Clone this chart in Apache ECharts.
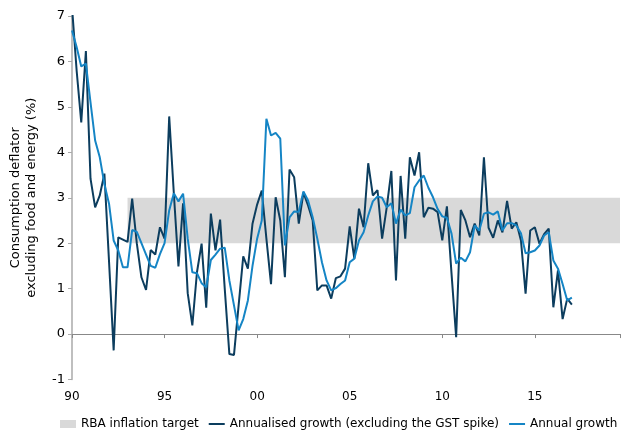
<!DOCTYPE html>
<html lang="en">
<head>
    <meta charset="UTF-8">
    <title>Consumption deflator</title>
    <script src="https://cdn.jsdelivr.net/npm/echarts@6/dist/echarts.min.js"></script>
</head>
<style type="text/css">
    html, body { margin: 0; padding: 0; background: #fff; }
    #main { width: 621px; height: 430px; }
</style>
<body>
<div id="main"></div>
<script type="text/javascript">
    // quarterly, starting 1990 Q1
    var startYear = 1990;
    var yearLabels = ['90', '95', '00', '05', '10', '15'];
    var targetBand = [2, 3];
    var targetStart = 1993;

    // Annualised growth (excluding the GST spike)
    var annualised = [
        7.2, 5.8, 4.66, 6.23, 3.42, 2.79, 3.05, 3.53, 1.6, -0.36,
        2.13, 2.08, 2.03, 2.98, 2.0, 1.25, 0.97, 1.85, 1.75, 2.35,
        2.1, 4.79, 3.1, 1.49, 2.88, 0.9, 0.19, 1.36, 1.99, 0.58,
        2.65, 1.84, 2.52, 1.0, -0.44, -0.46, 0.63, 1.71, 1.44, 2.43,
        2.85, 3.16, 2.1, 1.1, 3.01, 2.5, 1.25, 3.62, 3.45, 2.43,
        3.11, 2.83, 2.5, 0.96, 1.07, 1.07, 0.78, 1.23, 1.27, 1.44,
        2.37, 1.66, 2.76, 2.35, 3.76, 3.05, 3.17, 2.1, 2.79, 3.59,
        1.18, 3.48, 2.1, 3.89, 3.49, 4.0, 2.57, 2.78, 2.76, 2.68,
        2.06, 2.81, 1.33, -0.07, 2.73, 2.5, 2.13, 2.43, 2.17, 3.89,
        2.34, 2.12, 2.5, 2.24, 2.93, 2.32, 2.46, 2.06, 0.89, 2.28,
        2.35, 1.99, 2.2, 2.32, 0.59, 1.4, 0.33, 0.78, 0.65
    ];

    // Annual growth
    var annual = [
        6.68, 6.32, 5.89, 5.95, 5.1, 4.26, 3.89, 3.3, 2.87, 2.06,
        1.84, 1.47, 1.47, 2.29, 2.25, 2.0, 1.75, 1.5, 1.46, 1.76,
        2.0, 2.72, 3.1, 2.92, 3.09, 2.1, 1.36, 1.34, 1.12, 1.03,
        1.63, 1.75, 1.88, 1.9, 1.18, 0.63, 0.08, 0.33, 0.74, 1.5,
        2.1, 2.5, 4.74, 4.37, 4.43, 4.3, 1.95, 2.57, 2.7, 2.69,
        3.14, 2.94, 2.57, 2.1, 1.58, 1.18, 0.96, 1.01, 1.1, 1.18,
        1.58, 1.66, 2.06, 2.24, 2.61, 2.92, 3.03, 3.0, 2.79, 2.88,
        2.43, 2.74, 2.61, 2.66, 3.23, 3.38, 3.49, 3.22, 3.01, 2.75,
        2.59, 2.56, 2.21, 1.55, 1.68, 1.6, 1.8, 2.39, 2.28, 2.65,
        2.68, 2.63, 2.7, 2.28, 2.44, 2.44, 2.39, 2.22, 1.78, 1.8,
        1.84, 1.95, 2.17, 2.24, 1.62, 1.44, 1.1, 0.74, 0.8
    ];

    var xMax = 2019.6;

    function toPairs(arr) {
        var out = [];
        for (var i = 0; i < arr.length; i++) {
            out.push([startYear + i * 0.25, arr[i]]);
        }
        return out;
    }

    var font = 'DejaVu Sans';
    var lineIcon = 'path://M0,0 L16,0 L16,2 L0,2 Z';
    var myChart = echarts.init(document.getElementById('main'));
    var option = {
        animation: false,
        grid: {left: 72, right: 1, top: 16, bottom: 50.5},
        legend: {
            left: 55, top: 413, width: 615, padding: 5,
            itemWidth: 16, itemHeight: 8, itemGap: 10,
            textStyle: {fontFamily: font, fontSize: 12, color: '#000'},
            data: [
                {name: 'RBA inflation target', icon: 'rect'},
                {name: 'Annualised growth (excluding the GST spike)', icon: lineIcon},
                {name: 'Annual growth', icon: lineIcon}
            ]
        },
        xAxis: [{
            type: 'value', position: 'bottom', min: startYear, max: xMax, interval: 5,
            axisLine: {onZero: true, lineStyle: {color: '#888', width: 1}},
            axisTick: {show: true, length: 4, lineStyle: {color: '#888'}},
            axisLabel: {show: false},
            splitLine: {show: false}
        }, {
            type: 'value', position: 'bottom', min: startYear, max: xMax, interval: 5,
            axisLine: {show: false, onZero: false},
            axisTick: {show: false},
            splitLine: {show: false},
            axisLabel: {
                margin: 11, showMaxLabel: false,
                fontFamily: font, fontSize: 12, color: '#000',
                formatter: function (v) {
                    var k = Math.round((v - startYear) / 5);
                    return yearLabels[k] !== undefined ? yearLabels[k] : '';
                }
            }
        }],
        yAxis: {
            type: 'value', min: -1, max: 7, interval: 1,
            name: 'Consumption deflator\nexcluding food and energy (%)',
            nameLocation: 'middle', nameRotate: 90, nameGap: 32,
            nameTextStyle: {fontFamily: font, fontSize: 13, color: '#000', lineHeight: 16},
            axisLine: {show: true, lineStyle: {color: '#aaa', width: 1.5}},
            axisTick: {show: true, length: 4, lineStyle: {color: '#aaa'}},
            axisLabel: {fontFamily: font, fontSize: 13, color: '#000', margin: 7},
            splitLine: {show: false}
        },
        series: [
            {
                name: 'RBA inflation target', type: 'line', data: [], z: 1,
                itemStyle: {color: '#d9d9d9'}, lineStyle: {color: '#d9d9d9'},
                markArea: {
                    silent: true,
                    itemStyle: {color: '#d9d9d9'},
                    data: [[{xAxis: targetStart, yAxis: targetBand[0]}, {xAxis: xMax, yAxis: targetBand[1]}]]
                }
            },
            {
                name: 'Annualised growth (excluding the GST spike)', type: 'line', z: 3,
                symbol: 'none', data: toPairs(annualised),
                itemStyle: {color: '#0c3d5e'}, lineStyle: {color: '#0c3d5e', width: 2}
            },
            {
                name: 'Annual growth', type: 'line', z: 4,
                symbol: 'none', data: toPairs(annual),
                itemStyle: {color: '#1585c5'}, lineStyle: {color: '#1585c5', width: 2}
            }
        ]
    };
    myChart.setOption(option);
</script>
</body>
</html>
